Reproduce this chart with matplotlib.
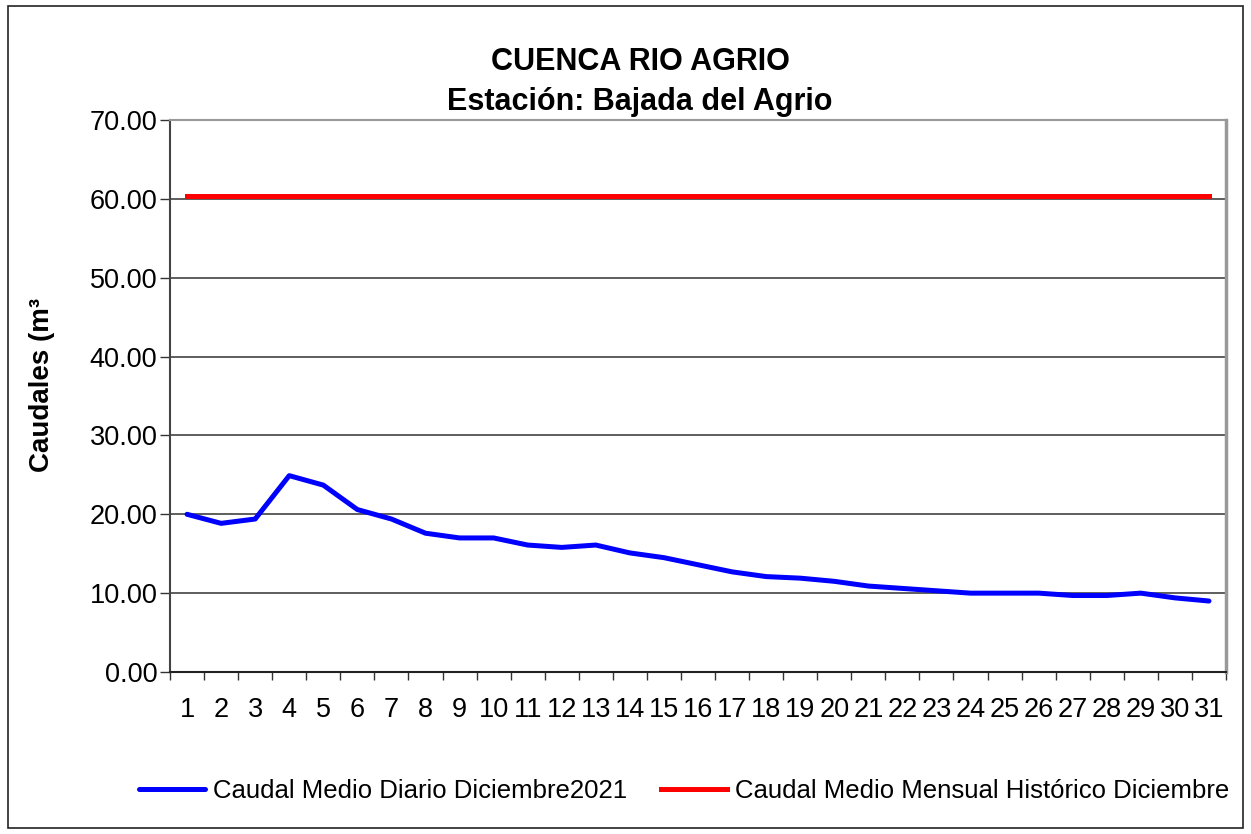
import numpy as np
import matplotlib.pyplot as plt
from matplotlib.patches import Rectangle

plt.rcParams['font.family'] = ['Liberation Sans', 'DejaVu Sans']

# datos
dias = list(range(1, 32))
caudal_diario = [20.0, 18.85, 19.4, 24.9, 23.7, 20.6, 19.4, 17.6, 17.0, 17.0,
                 16.1, 15.8, 16.1, 15.1, 14.5, 13.6, 12.7, 12.1, 11.9, 11.5,
                 10.9, 10.6, 10.3, 10.0, 10.0, 10.0, 9.7, 9.7, 10.0, 9.4, 9.0]
caudal_historico = [60.3] * 31
yticks = [0, 10, 20, 30, 40, 50, 60, 70]

fig = plt.figure(figsize=(12.51, 8.34), dpi=100)
ax = fig.add_axes([170/1251, 1-672/834, 1056/1251, 552/834])

for v in yticks[1:-1]:
    ax.axhline(v, color='#333333', lw=1.1, zorder=1)

l1, = ax.plot(dias, caudal_diario, color='#0000ff', lw=3.6, solid_capstyle='round',
              solid_joinstyle='round', zorder=3)
l2, = ax.plot(dias, caudal_historico, color='#ff0000', lw=3.6, zorder=3)

ax.set_xlim(0.5, 31.5)
ax.set_ylim(0, 70)
ax.set_yticks(yticks)
ax.set_yticklabels(['%.2f' % v for v in yticks], fontsize=19.5)
ax.set_xticks(dias)
ax.set_xticklabels([str(d) for d in dias], fontsize=19.5)
ax.tick_params(axis='x', length=0, pad=18)
ax.set_xticks(np.arange(0.5, 32, 1), minor=True)
ax.tick_params(axis='x', which='minor', length=6, width=1, color='#333333')
ax.tick_params(axis='y', length=7, width=1, pad=2, color='#333333')

ax.spines['left'].set_color('#444444')
ax.spines['left'].set_linewidth(1.5)
ax.spines['bottom'].set_color('#222222')
ax.spines['bottom'].set_linewidth(1.5)
ax.spines['right'].set_color('#999999')
ax.spines['right'].set_linewidth(2.5)
ax.spines['top'].set_color('#999999')
ax.spines['top'].set_linewidth(1.5)

fig.text(640/1251, 1-62/834, 'CUENCA RIO AGRIO', ha='center', va='center',
         fontsize=22, fontweight='bold')
fig.text(640/1251, 1-102/834, 'Estación: Bajada del Agrio', ha='center', va='center',
         fontsize=22, fontweight='bold')
fig.text(42/1251, 1-385/834, 'Caudales (m³', rotation=90, ha='center', va='center',
         fontsize=20, fontweight='bold')

fig.legend([l1, l2], ['Caudal Medio Diario Diciembre2021',
                      'Caudal Medio Mensual Histórico Diciembre'],
           loc='center', bbox_to_anchor=(684/1251, 1-791/834), ncol=2,
           frameon=False, fontsize=18.5, handlelength=2.6, handletextpad=0.3,
           columnspacing=1.3)

# marco exterior
fig.patches.append(Rectangle((8/1251, 6/834), 1-16/1251, 1-12/834,
                             transform=fig.transFigure, fill=False,
                             edgecolor='#222222', lw=1.2))

fig.savefig('out.png', dpi=100)
